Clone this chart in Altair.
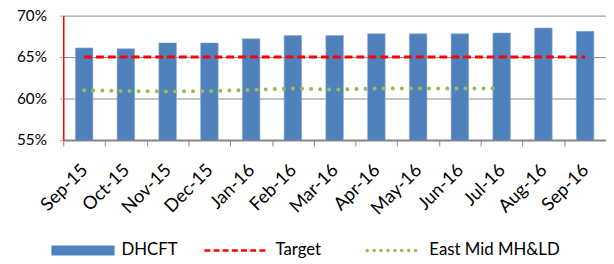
import altair as alt
import pandas as pd

months = ["Sep-15", "Oct-15", "Nov-15", "Dec-15", "Jan-16", "Feb-16", "Mar-16",
          "Apr-16", "May-16", "Jun-16", "Jul-16", "Aug-16", "Sep-16"]
dhcft = [0.661, 0.660, 0.667, 0.667, 0.672, 0.676, 0.676,
         0.678, 0.678, 0.678, 0.679, 0.685, 0.681]
target = [0.65] * 13
east_mid = [0.610, 0.609, 0.6085, 0.609, 0.6105, 0.612, 0.6107,
            0.612, 0.612, 0.612, 0.612, None, None]
y_ticks = [0.55, 0.60, 0.65, 0.70]

df = pd.DataFrame({"month": months, "DHCFT": dhcft, "Target": target, "EastMid": east_mid})
df_em = df.dropna(subset=["EastMid"])

FONT = "Lato"
BLUE = "#4F81BD"
RED = "#FF0000"
GREEN = "#9BBB59"

xenc = alt.X("month:N", sort=months, title=None,
             scale=alt.Scale(paddingInner=0, paddingOuter=0),
             axis=alt.Axis(labelAngle=-45, labelAlign="right", labelBaseline="middle",
                           tickBand="extent", labelPadding=21,
                           tickSize=6, tickColor="#868686", tickWidth=1,
                           domainColor="#868686", domainWidth=2,
                           labelFont=FONT, labelFontSize=18.5, labelColor="#000000",
                           grid=False))
yscale = alt.Scale(domain=[0.55, 0.70], nice=False, zero=False)
yaxis = alt.Axis(values=y_ticks, format=".0%", title=None, grid=True,
                 gridColor="#898989", gridWidth=1,
                 domainColor=RED, domainWidth=1.5,
                 tickColor=RED, tickSize=4, tickDash=[1, 1.5],
                 labelPadding=13, labelFont=FONT, labelFontSize=15.5, labelColor="#000000")

bars = alt.Chart(df).mark_bar(color=BLUE, stroke="#8DA9D4", strokeWidth=0.6,
                              width={"band": 0.42}, clip=True).encode(
    x=xenc, y=alt.Y("DHCFT:Q", scale=yscale, axis=yaxis))

tline = alt.Chart(df).mark_line(color=RED, strokeWidth=3, strokeDash=[8, 4]).encode(
    x=alt.X("month:N", sort=months), y=alt.Y("Target:Q", scale=yscale))

gline = alt.Chart(df_em).mark_line(color=GREEN, strokeWidth=4, strokeDash=[0.1, 9.1],
                                   strokeCap="round").encode(
    x=alt.X("month:N", sort=months), y=alt.Y("EastMid:Q", scale=yscale))

one = alt.Data(values=[{"k": 1}])
LY = 238
leg_rect = alt.Chart(one).mark_rect(color=BLUE).encode(
    x=alt.value(-12), x2=alt.value(52), y=alt.value(LY - 5), y2=alt.value(LY + 5))
leg_red = alt.Chart(one).mark_rule(color=RED, strokeWidth=2.5, strokeDash=[6, 3.3]).encode(
    x=alt.value(143), x2=alt.value(208), y=alt.value(LY))
leg_green = alt.Chart(one).mark_rule(color=GREEN, strokeWidth=3.5, strokeDash=[0.1, 6.9],
                                     strokeCap="round").encode(
    x=alt.value(308), x2=alt.value(361), y=alt.value(LY))

def leg_text(label, xpos):
    return alt.Chart(one).mark_text(text=label, align="left", baseline="middle",
                                    font=FONT, fontSize=17, color="#000000").encode(
        x=alt.value(xpos), y=alt.value(LY))

chart = alt.layer(bars, tline, gline, leg_rect, leg_red, leg_green,
                  leg_text("DHCFT", 59), leg_text("Target", 215),
                  leg_text("East Mid MH&LD", 371)).properties(
    width=550, height=126,
    autosize=alt.AutoSizeParams(type="none"),
    padding={"left": 56, "top": 6, "right": 0, "bottom": 124},
    background="#FFFFFF",
).configure_view(stroke=None)

chart.save("out.html", embed_options={"renderer": "svg", "actions": False})
